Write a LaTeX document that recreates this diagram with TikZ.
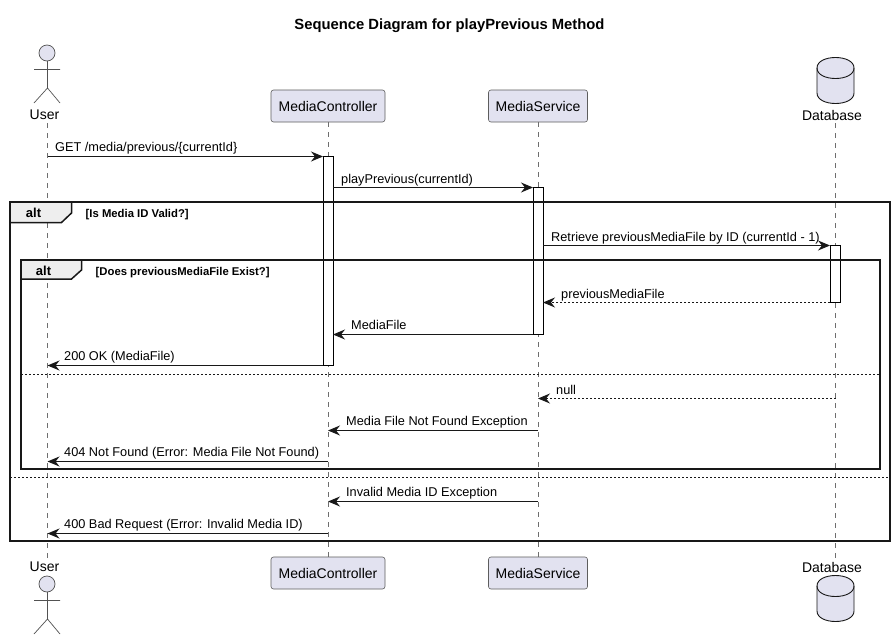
\documentclass[tikz,border=0pt]{standalone}
\usepackage{fontspec}
\setmainfont{Liberation Sans}
\usetikzlibrary{arrows.meta}
\definecolor{partfill}{HTML}{E2E2F0}
\definecolor{ink}{HTML}{181818}
\definecolor{lifegray}{HTML}{6E6E6E}
\definecolor{tabfill}{HTML}{EEEEEE}
\tikzset{
  partbox/.style={draw=ink!70,line width=0.6pt,fill=partfill,rounded corners=2.5pt,minimum height=32pt,inner xsep=0pt,font=\fontsize{14}{16}\selectfont,text=black},
  actorline/.style={draw=ink!75,line width=0.7pt},
  lifeline/.style={draw=lifegray,line width=0.6pt,dash pattern=on 5pt off 5pt},
  actlabel/.style={inner sep=0pt,font=\fontsize{14}{16}\selectfont,text=black},
  bar/.style={draw=black,fill=white,line width=1pt,minimum width=10pt,inner sep=0pt,outer sep=0pt},
  msg/.style={draw=ink,line width=1pt,-{Stealth[length=12pt,width=10pt,inset=4pt]}},
  dmsg/.style={msg,dash pattern=on 2pt off 2pt},
  msglabel/.style={inner sep=0pt,anchor=base west,font=\fontsize{12.75}{15}\selectfont,text=black},
  framebox/.style={draw=ink,line width=2pt},
  tabbox/.style={draw=ink,line width=1.5pt,fill=tabfill},
  altlabel/.style={inner sep=0pt,font=\bfseries\fontsize{13}{15}\selectfont,text=black},
  guard/.style={inner sep=0pt,anchor=base west,font=\bfseries\fontsize{11.3}{13}\selectfont,text=black},
  divider/.style={draw=ink,line width=1pt,dash pattern=on 2pt off 2pt}
}
\begin{document}
\begin{tikzpicture}[x=1pt,y=-1pt]
\useasboundingbox (0,0) rectangle (895,640);
\fill[white] (0,0) rectangle (895,640);
\node[inner sep=0pt,font=\bfseries\fontsize{14.8}{17}\selectfont] (title) at (449.5,26) {Sequence Diagram for playPrevious Method};

% participants
\node[actlabel] (userT) at (44.5,115) {User};
\node[actlabel] (userB) at (44.5,567) {User};
\node[partbox,minimum width=114pt] (ctrlT) at (328,106) {MediaController};
\node[partbox,minimum width=114pt] (ctrlB) at (328,573) {MediaController};
\node[partbox,minimum width=99pt] (servT) at (538,106) {MediaService};
\node[partbox,minimum width=99pt] (servB) at (538,573) {MediaService};
\node[actlabel] (dbT) at (832,115) {Database};
\node[actlabel] (dbB) at (832,567) {Database};

% lifelines
\coordinate (uT) at (47.5,123); \coordinate (uB) at (47.5,558);
\coordinate (dT) at (835.5,123); \coordinate (dB) at (835.5,558);
\draw[lifeline] (uT) -- (uB);
\draw[lifeline] (ctrlT.south) -- (ctrlB.north);
\draw[lifeline] (servT.south) -- (servB.north);
\draw[lifeline] (dT) -- (dB);

% actors
\foreach \o in {0,531}{
  \begin{scope}[yshift=-\o pt]
  \filldraw[actorline,fill=partfill] (47,53) circle (8);
  \draw[actorline] (47.5,61) -- (47.5,88) (34,69.5) -- (60,69.5) (34,103) -- (47.5,88) -- (60,103);
  \end{scope}
}
% databases
\foreach \o in {0,518}{
  \begin{scope}[yshift=-\o pt]
  \filldraw[draw=ink,line width=0.9pt,fill=partfill] (817,68) .. controls (817,54) and (854,54) .. (854,68) -- (854,93) .. controls (854,107) and (817,107) .. (817,93) -- cycle;
  \draw[draw=ink,line width=0.9pt] (817,68) .. controls (817,82) and (854,82) .. (854,68);
  \end{scope}
}

% activation bars
\node[bar,minimum height=209pt] (actC) at (328,261) {};
\node[bar,minimum height=147pt] (actS) at (538,261) {};
\node[bar,minimum height=57pt] (actD) at (835,274) {};

% frames
\draw[framebox] (10,202) rectangle (890,541);
\filldraw[tabbox] (10,202) -- (71.5,202) -- (71.5,213) -- (61.5,222.5) -- (10,222.5) -- cycle;
\node[altlabel] (alt1) at (33.5,213) {alt};
\node[guard] (g1) at (85.5,217) {[Is Media ID Valid?]};
\draw[framebox] (21,260) rectangle (880,469);
\filldraw[tabbox] (21,260) -- (81.5,260) -- (81.5,270) -- (71.5,279) -- (21,279) -- cycle;
\node[altlabel] (alt2) at (43.5,271) {alt};
\node[guard] (g2) at (95.5,275) {[Does previousMediaFile Exist?]};
\coordinate (d1a) at (21,374.5); \coordinate (d1b) at (880,374.5);
\coordinate (d2a) at (10,477.5); \coordinate (d2b) at (890,477.5);
\draw[divider] (d1a) -- (d1b);
\draw[divider] (d2a) -- (d2b);

% messages
\draw[msg] (uT |- actC.north) -- (actC.north west);
\draw[msg] (actC.east |- actS.north) -- (actS.north west);
\draw[msg] (actS.east |- actD.north) -- (actD.north west);
\draw[dmsg] (actD.south west) -- (actS.east |- actD.south);
\draw[msg] (actS.south west) -- (actC.east |- actS.south);
\draw[msg] (actC.south west) -- (uT |- actC.south);
\draw[dmsg] (dT |- 0,398.5) -- (servT.south |- 0,398.5);
\draw[msg] (servT.south |- 0,430.5) -- (ctrlT.south |- 0,430.5);
\draw[msg] (ctrlT.south |- 0,461.5) -- (uT |- 0,461.5);
\draw[msg] (servT.south |- 0,501.5) -- (ctrlT.south |- 0,501.5);
\draw[msg] (ctrlT.south |- 0,533.5) -- (uT |- 0,533.5);

\node[msglabel] (t1) at (55,151) {GET /media/previous/\{currentId\}};
\node[msglabel] (t2) at (341,183) {playPrevious(currentId)};
\node[msglabel] (t3) at (551,241) {Retrieve previousMediaFile by ID (currentId - 1)};
\node[msglabel] (t4) at (561,298) {previousMediaFile};
\node[msglabel] (t5) at (351,329) {MediaFile};
\node[msglabel] (t6) at (64,360) {200 OK (MediaFile)};
\node[msglabel] (t7) at (556,394) {null};
\node[msglabel] (t8) at (346,425) {Media File Not Found Exception};
\node[msglabel] (t9) at (64,456) {404 Not Found (Error: Media File Not Found)};
\node[msglabel] (t10) at (346,496) {Invalid Media ID Exception};
\node[msglabel] (t11) at (64,528) {400 Bad Request (Error: Invalid Media ID)};
\end{tikzpicture}
\end{document}
